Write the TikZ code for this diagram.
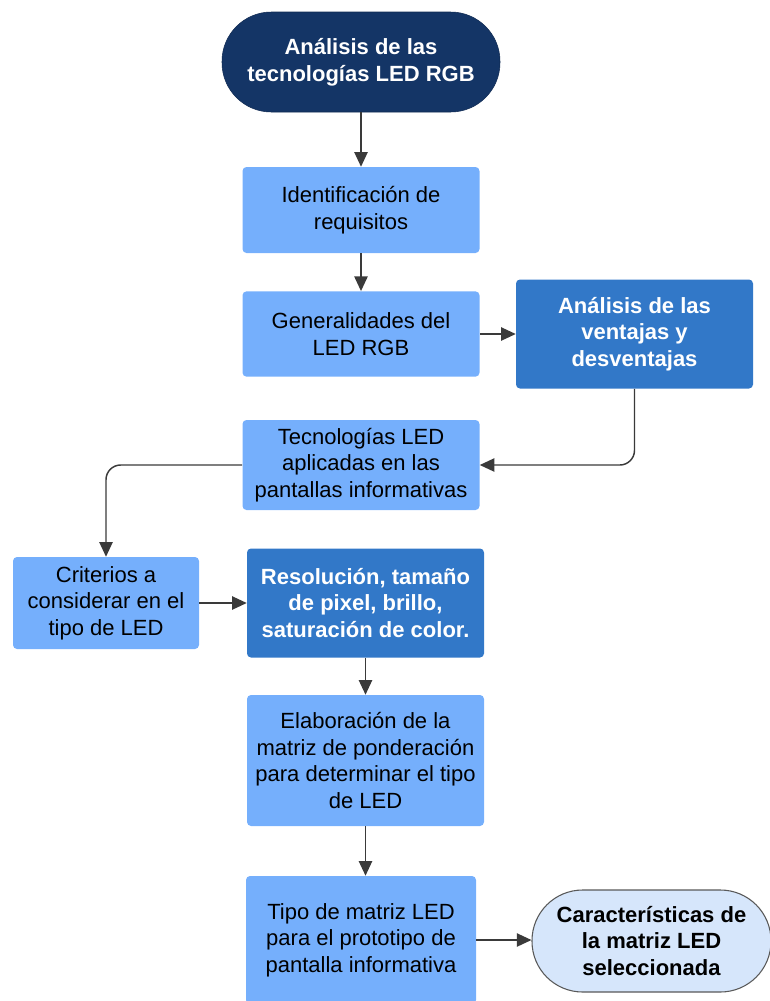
\documentclass[tikz,border=0pt]{standalone}
\usepackage{fontspec}
\setmainfont{Liberation Sans}
\usetikzlibrary{arrows.meta}
\definecolor{navy}{RGB}{20,53,102}
\definecolor{lightbox}{RGB}{117,175,252}
\definecolor{midbox}{RGB}{50,120,200}
\definecolor{paleend}{RGB}{214,230,251}
\definecolor{arrowgray}{RGB}{58,58,58}
\tikzset{
  box/.style={rectangle,rounded corners=3pt,fill=lightbox,align=center,inner sep=2pt,
    font=\fontsize{16.5}{20}\selectfont},
  keybox/.style={box,fill=midbox,text=white,font=\fontsize{16.5}{20}\selectfont\bfseries},
  startpill/.style={box,rounded corners=37pt,fill=navy,draw=navy!80!black,text=white,
    font=\fontsize{16.5}{20}\selectfont\bfseries},
  endpill/.style={box,rounded corners=38pt,fill=paleend,draw=black!65,line width=0.8pt,
    font=\fontsize{16.5}{20}\selectfont\bfseries},
  link/.style={draw=arrowgray,line width=1.1pt,-{Triangle[length=11pt,width=10pt]}}
}
\begin{document}
\begin{tikzpicture}[x=0.75pt,y=-0.75pt]
  \useasboundingbox (0,0) rectangle (770,1001);
  \node[startpill,minimum width=208.5pt,minimum height=75pt] (start) at (361,62)
    {Análisis de las\\tecnologías LED RGB};
  \node[box,minimum width=177.75pt,minimum height=64.5pt] (req) at (361,210)
    {Identificación de\\requisitos};
  \node[box,minimum width=177.75pt,minimum height=64pt] (gen) at (361,334)
    {Generalidades del\\LED RGB};
  \node[keybox,minimum width=177.75pt,minimum height=81.75pt] (vent) at (634.5,334)
    {Análisis de las\\ventajas y\\desventajas};
  \node[box,minimum width=177.75pt,minimum height=67.5pt] (tec) at (361,465)
    {Tecnologías LED\\aplicadas en las\\pantallas informativas};
  \node[box,minimum width=139.5pt,minimum height=69pt] (crit) at (106,603)
    {Criterios a\\considerar en el\\tipo de LED};
  \node[keybox,minimum width=177.75pt,minimum height=81.75pt] (res) at (365.5,603)
    {Resolución, tamaño\\de pixel, brillo,\\saturación de color.};
  \node[box,minimum width=177.75pt,minimum height=98.25pt] (pond) at (365.5,760.5)
    {Elaboración de la\\matriz de ponderación\\para determinar el tipo\\de LED};
  \node[box,minimum width=172.5pt,minimum height=96pt] (tipo) at (361,940)
    {Tipo de matriz LED\\para el prototipo de\\pantalla informativa};
  \node[endpill,minimum width=179.25pt,minimum height=76.5pt] (fin) at (651.5,941)
    {Características de\\la matriz LED\\seleccionada};
  \draw[link] (start) -- (req);
  \draw[link] (req) -- (gen);
  \draw[link] (gen) -- (vent);
  \draw[link,rounded corners=11pt] (vent.south) |- (tec.east);
  \draw[link,rounded corners=11pt] (tec.west) -| (crit.north);
  \draw[link] (crit) -- (res);
  \draw[link] (res) -- (pond);
  \draw[link] (pond.south) -- (pond.south |- tipo.north);
  \draw[link] (tipo.east) -- (tipo.east -| fin.west);
\end{tikzpicture}
\end{document}
